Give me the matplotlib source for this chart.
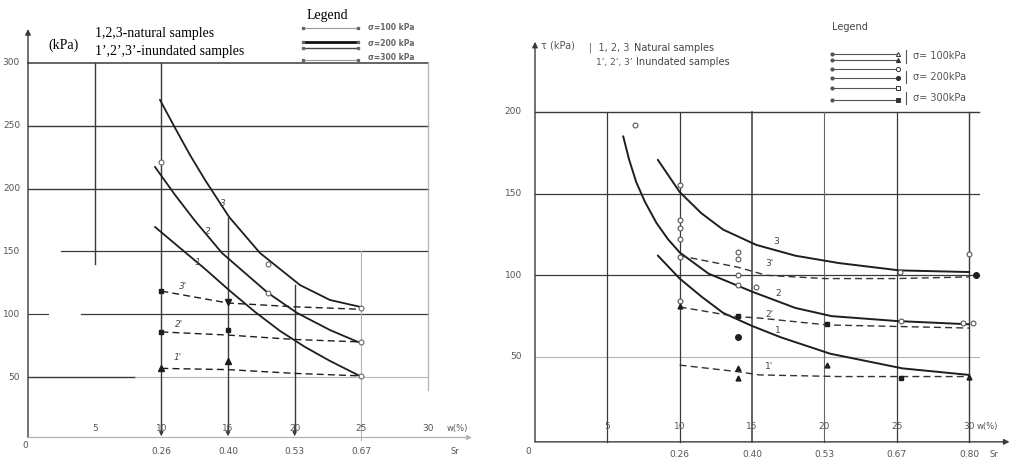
import matplotlib
matplotlib.use("Agg")
import matplotlib.pyplot as plt

# ---------------- data : left panel  (c, kPa  vs  w, %) ----------------
L_W_TICKS = [5, 10, 15, 20, 25, 30]
L_SR_TICKS = [10, 15, 20, 25]
L_SR_LABELS = ["0.26", "0.40", "0.53", "0.67"]
L_Y_TICKS = [50, 100, 150, 200, 250, 300]

L1_w = [9.53, 11.4, 13.28, 15.15, 17.03, 18.9, 20.78, 22.65, 24.9]
L1_c = [169.5, 152.8, 136.1, 118.6, 101.9, 86.8, 74.0, 62.9, 50.9]
L2_w = [9.53, 11.03, 12.53, 14.55, 18.0, 20.18, 22.65, 24.75]
L2_c = [217.2, 195.0, 174.3, 148.8, 117.0, 101.1, 87.5, 78.0]
L3_w = [9.9, 11.03, 12.15, 13.28, 15.08, 17.4, 20.4, 22.65, 24.98]
L3_c = [270.6, 248.3, 226.8, 206.9, 177.5, 148.8, 123.3, 111.4, 105.8]
L1i_w = [10, 15, 20, 25]
L1i_c = [57, 56, 53, 51]
L2i_w = [10, 15, 20, 25]
L2i_c = [86, 83.5, 80, 78]
L3i_w = [10, 15, 20, 25]
L3i_c = [118.5, 109, 106, 104]
L_SQ_w = [10, 10, 15]
L_SQ_c = [118.5, 86, 87.5]
L_TRI_w = [10, 15]
L_TRI_c = [57, 63]
L_DTRI_w = [15]
L_DTRI_c = [110]
L_OPEN_w = [10, 18, 18, 25, 25, 25]
L_OPEN_c = [221, 140, 117, 105, 78, 51]

# ---------------- data : right panel  (tau, kPa  vs  w, %) ----------------
R_W_TICKS = [5, 10, 15, 20, 25, 30]
R_SR_TICKS = [10, 15, 20, 25, 30]
R_SR_LABELS = ["0.26", "0.40", "0.53", "0.67", "0.80"]
R_Y_TICKS = [50, 100, 150, 200]

R1_w = [8.5, 10, 11.5, 13, 15, 17, 20.4, 25.4, 30]
R1_t = [112, 98, 87, 77, 69, 62, 52, 43, 39]
R2_w = [6.1, 6.5, 7.0, 7.6, 8.4, 9.2, 10, 12, 15, 18, 20.5, 25, 30]
R2_t = [185, 171, 157, 145, 132, 122, 114, 101, 90, 80, 75, 72, 70]
R3_w = [8.5, 10, 11.5, 13, 15.3, 18, 21, 25.2, 30]
R3_t = [170.6, 151, 138, 128, 118.6, 112, 107.5, 103, 102]
R1i_w = [10, 14, 15.5, 21, 30]
R1i_t = [45, 41, 39, 38, 38]
R2i_w = [10, 14, 15.3, 20.2, 30]
R2i_t = [80.6, 74.6, 74, 69.6, 67.7]
R3i_w = [10, 14, 16, 20, 25, 30]
R3i_t = [112, 105, 100, 98, 98, 99]
R_OPEN_w = [6.9, 10, 10, 10, 10, 10, 10, 14, 14, 14, 14, 15.3, 25.3, 29.6, 30.3, 30, 25.2]
R_OPEN_t = [192, 155, 134, 129, 122, 111, 84, 114, 110, 100, 94, 93, 72, 71, 71, 113, 102]
R_FSQ_w = [14, 20.2, 25.3]
R_FSQ_t = [75, 70, 37]
R_FTRI_w = [10, 14, 14, 20.2, 30]
R_FTRI_t = [81, 43, 37, 45, 38]
R_FCIR_w = [14, 30.5]
R_FCIR_t = [62, 100]

INK = "#1e1e1e"
GRID = "#3a3a3a"
LIGHT = "#b4b4b4"
TXT = "#555555"

fig = plt.figure(figsize=(10.28, 4.69), dpi=100)
fig.patch.set_facecolor("white")

W, H = 1028.0, 469.0


def px_axes(x0, x1, y_top, y_bot):
    return fig.add_axes([x0 / W, (H - y_bot) / H, (x1 - x0) / W, (y_bot - y_top) / H])


def arrow(ax, xy, xytext, col, lw, ms):
    ax.annotate("", xy=xy, xytext=xytext, annotation_clip=False,
                arrowprops=dict(arrowstyle="-|>", color=col, lw=lw, mutation_scale=ms,
                                shrinkA=0, shrinkB=0))


# ======================= LEFT PANEL =======================
axL = px_axes(28, 428, 63, 440)
axL.set_xlim(0, 30)
axL.set_ylim(0, 300)
axL.axis("off")

for yv, x0, x1, col, lw in [(300, 0, 30, GRID, 1.1), (250, 0, 30, GRID, 1.0), (200, 0, 30, GRID, 1.0),
                             (150, 2.5, 30, GRID, 0.9), (100, 4.0, 30, GRID, 0.9), (100, 0, 1.5, GRID, 0.8),
                             (50, 0, 8, GRID, 1.0), (50, 8, 30, LIGHT, 0.8)]:
    axL.plot([x0, x1], [yv, yv], color=col, lw=lw, clip_on=False)
for xv, y0, y1, col, lw in [(5, 140, 300, GRID, 1.0), (10, 8, 300, GRID, 1.0), (15, 8, 177, GRID, 1.0),
                             (20, 8, 123, GRID, 1.0), (25, 0, 150, LIGHT, 0.8), (30, 40, 300, LIGHT, 0.9)]:
    axL.plot([xv, xv], [y0, y1], color=col, lw=lw, clip_on=False)
for xv in [10, 15, 20]:
    arrow(axL, (xv, 3), (xv, 12), GRID, 0.8, 6)
arrow(axL, (0, 327), (0, 2), GRID, 1.0, 8)
arrow(axL, (33.3, 2), (0, 2), LIGHT, 0.9, 7)

for w, c in [(L1_w, L1_c), (L2_w, L2_c), (L3_w, L3_c)]:
    axL.plot(w, c, color=INK, lw=1.3, clip_on=False)
for w, c in [(L1i_w, L1i_c), (L2i_w, L2i_c), (L3i_w, L3i_c)]:
    axL.plot(w, c, color=INK, lw=1.0, ls=(0, (5, 3)), clip_on=False)
axL.plot(L_SQ_w, L_SQ_c, ls="none", marker="s", ms=3.5, color=INK, clip_on=False)
axL.plot(L_TRI_w, L_TRI_c, ls="none", marker="^", ms=4, color=INK, clip_on=False)
axL.plot(L_DTRI_w, L_DTRI_c, ls="none", marker="v", ms=4, color=INK, clip_on=False)
axL.plot(L_OPEN_w, L_OPEN_c, ls="none", marker="o", ms=3.5, mfc="white", mec="#666", mew=0.8, clip_on=False)

for s, (xw, yc) in {"3": (14.6, 188), "2": (13.5, 166), "1": (12.7, 141), "3'": (11.6, 122),
                    "2'": (11.3, 92), "1'": (11.2, 66)}.items():
    axL.text(xw, yc, s, fontsize=6.5, color="#444", ha="center", va="center", style="italic")

for t in L_Y_TICKS:
    axL.text(-0.6, t, str(t), fontsize=6.5, color=TXT, ha="right", va="center", clip_on=False)
for t in L_W_TICKS:
    axL.text(t, 9, str(t), fontsize=6.5, color=TXT, ha="center", va="center")
for t, lab in zip(L_SR_TICKS, L_SR_LABELS):
    axL.text(t, -9.5, lab, fontsize=6.5, color=TXT, ha="center", va="center", clip_on=False)
axL.text(-0.2, -4, "0", fontsize=6.5, color=TXT, ha="center", va="center", clip_on=False)
axL.text(32.2, 9.5, "w(%)", fontsize=6, color=TXT, ha="center", va="center", clip_on=False)
axL.text(32.0, -9.5, "Sr", fontsize=6, color=TXT, ha="center", va="center", clip_on=False)

# ======================= RIGHT PANEL =======================
axR = px_axes(535, 969, 112, 438.6)
axR.set_xlim(0, 30)
axR.set_ylim(0, 200)
axR.axis("off")

for yv, col, lw in [(200, GRID, 1.0), (150, GRID, 0.9), (100, GRID, 0.9), (50, LIGHT, 0.8)]:
    axR.plot([0, 30.7], [yv, yv], color=col, lw=lw, clip_on=False)
for xv, col, lw in [(5, GRID, 0.9), (10, GRID, 0.9), (15, GRID, 1.1), (20, "#666", 0.8),
                    (25, GRID, 0.9), (30, GRID, 1.0)]:
    axR.plot([xv, xv], [-2, 200], color=col, lw=lw, clip_on=False)
arrow(axR, (0, 243), (0, -2), GRID, 1.0, 8)
arrow(axR, (32.8, -2), (0, -2), GRID, 1.0, 8)

for w, t in [(R1_w, R1_t), (R2_w, R2_t), (R3_w, R3_t)]:
    axR.plot(w, t, color=INK, lw=1.4, clip_on=False)
for w, t in [(R1i_w, R1i_t), (R2i_w, R2i_t), (R3i_w, R3i_t)]:
    axR.plot(w, t, color="#333", lw=1.0, ls=(0, (5, 3)), clip_on=False)
axR.plot(R_OPEN_w, R_OPEN_t, ls="none", marker="o", ms=3.5, mfc="white", mec="#555", mew=0.8, clip_on=False)
axR.plot(R_FSQ_w, R_FSQ_t, ls="none", marker="s", ms=3.5, color=INK, clip_on=False)
axR.plot(R_FTRI_w, R_FTRI_t, ls="none", marker="^", ms=3.5, color=INK, clip_on=False)
axR.plot(R_FCIR_w, R_FCIR_t, ls="none", marker="o", ms=4, color=INK, clip_on=False)

for s, (xw, yt) in {"3": (16.7, 121), "2": (16.8, 89), "3'": (16.2, 107), "2'": (16.2, 76),
                    "1": (16.8, 66), "1'": (16.2, 44)}.items():
    axR.text(xw, yt, s, fontsize=6.5, color="#444", ha="center", va="center")

for t in R_Y_TICKS:
    axR.text(-0.9, t, str(t), fontsize=6.5, color=TXT, ha="right", va="center", clip_on=False)
for t in R_W_TICKS:
    axR.text(t, 7.5, str(t), fontsize=6.5, color=TXT, ha="center", va="center")
for t, lab in zip(R_SR_TICKS, R_SR_LABELS):
    axR.text(t, -10, lab, fontsize=6.5, color=TXT, ha="center", va="center", clip_on=False)
axR.text(-0.5, -8, "0", fontsize=6.5, color=TXT, ha="center", va="center", clip_on=False)
axR.text(31.3, 7.5, "w(%)", fontsize=6, color=TXT, ha="center", va="center", clip_on=False)
axR.text(31.7, -10, "Sr", fontsize=6, color=TXT, ha="center", va="center", clip_on=False)

# ======================= overlay (titles / legends) =======================
ov = fig.add_axes([0, 0, 1, 1], facecolor="none")
ov.set_xlim(0, W)
ov.set_ylim(H, 0)
ov.axis("off")

serif = ["Liberation Serif", "DejaVu Serif"]
ov.text(48, 45, "(kPa)", fontsize=10, family=serif, ha="left", va="center")
ov.text(95, 33, "1,2,3-natural samples", fontsize=10, family=serif, ha="left", va="center")
ov.text(95, 51, "1\u2019,2\u2019,3\u2019-inundated samples", fontsize=10, family=serif, ha="left", va="center")
ov.text(307, 15, "Legend", fontsize=10, family=serif, ha="left", va="center")
for y, lw, col in [(28, 0.8, "#999"), (42, 2.0, "#111"), (48, 1.0, "#444"), (60, 0.8, "#999")]:
    ov.plot([303, 358], [y, y], color=col, lw=lw)
    ov.plot([303, 358], [y, y], ls="none", marker="s", ms=2, color="#666")
for y, s in [(28, "\u03c3=100 kPa"), (43, "\u03c3=200 kPa"), (58, "\u03c3=300 kPa")]:
    ov.text(368, y, s, fontsize=5.5, color="#666", weight="bold", ha="left", va="center")

ov.text(541, 45, "\u03c4 (kPa)", fontsize=7, color=TXT, ha="left", va="center")
ov.text(589, 48, "|  1, 2, 3", fontsize=7, color=TXT, ha="left", va="center")
ov.text(634, 48, "Natural samples", fontsize=7, color="#444", ha="left", va="center")
ov.text(596, 62, "1\u2019, 2\u2019, 3\u2019", fontsize=6.5, color=TXT, ha="left", va="center")
ov.text(636, 62, "Inundated samples", fontsize=7, color="#444", ha="left", va="center")
ov.text(832, 27, "Legend", fontsize=7, color="#444", ha="left", va="center")
for y, mk, fill in [(54, "^", False), (60.5, "^", True), (68.6, "o", False),
                    (77.6, "o", True), (88.5, "s", False), (100, "s", True)]:
    ov.plot([832, 898], [y, y], color="#555", lw=0.8)
    ov.plot([898], [y], marker=mk, ms=3, color="#333", mfc=("#333" if fill else "white"), mew=0.7)
    ov.plot([832], [y], marker="o", ms=2, color="#555")
for y0, y1 in [(50, 63), (71, 83), (92, 104)]:
    ov.plot([906, 906], [y0, y1], color="#555", lw=0.8)
for y, s in [(56, "\u03c3= 100kPa"), (77, "\u03c3= 200kPa"), (98, "\u03c3= 300kPa")]:
    ov.text(913, y, s, fontsize=7, color=TXT, ha="left", va="center")

fig.savefig("out.png", dpi=100)
